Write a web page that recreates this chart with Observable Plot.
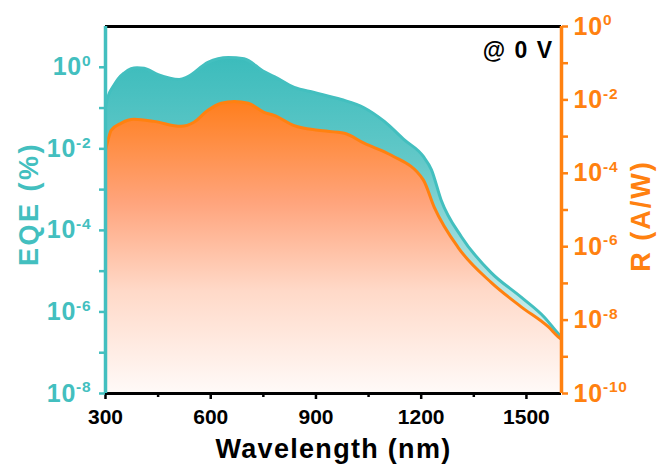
<!DOCTYPE html>
<html><head><meta charset="utf-8">
<script src="https://cdn.jsdelivr.net/npm/d3@7"></script>
<script src="https://cdn.jsdelivr.net/npm/@observablehq/plot@0.6"></script>
<style>body{margin:0;background:#fff} svg{display:block}</style>
</head><body><div id="chart"></div>
<script>
// EQE (%)
const eqeWavelength = [300, 307, 324, 336, 353, 373, 390, 410, 450, 510, 535, 592, 650, 695, 752, 781, 838, 895, 972, 1037, 1095, 1152, 1206, 1229, 1257, 1315, 1400, 1485, 1551, 1591, 1600];
const eqeValues = [0.108, 0.19, 0.36, 0.52, 0.72, 0.92, 0.98, 0.95, 0.66, 0.50, 0.59, 1.32, 1.74, 1.62, 0.78, 0.59, 0.32, 0.24, 0.162, 0.102, 0.047, 0.0166, 0.0065, 0.0031, 5.5e-4, 6.9e-5, 9.1e-6, 2.3e-6, 7.4e-7, 2.9e-7, 2.4e-7];
// Responsivity R (A/W)
const rWavelength = [300, 307, 316, 344, 381, 438, 515, 552, 592, 630, 667, 707, 752, 781, 838, 906, 981, 1037, 1115, 1206, 1237, 1306, 1400, 1485, 1562, 1594, 1600];
const rValues = [4.3e-4, 7.9e-4, 1.48e-3, 2.3e-3, 2.95e-3, 2.6e-3, 1.9e-3, 2.45e-3, 5.2e-3, 8.1e-3, 9.1e-3, 8.1e-3, 4.6e-3, 3.8e-3, 2.0e-3, 1.48e-3, 1.23e-3, 6.6e-4, 3.1e-4, 6.6e-5, 1.2e-5, 9.3e-7, 1.05e-7, 2.3e-8, 6.6e-9, 3.3e-9, 3.0e-9];

const xTicks = [300, 600, 900, 1200, 1500];
const xMinorTicks = [450, 750, 1050, 1350];
const eqeTickExponents = [0, -1, -2, -3, -4, -5, -6, -7, -8];
const rTickExponents = [0, -1, -2, -3, -4, -5, -6, -7, -8, -9, -10];

const teal = "#43bfbf";
const orange = "#ff8110";
const eqeExpDomain = [-8, 1];   // EQE from 10^-8 to 10^1 %
const rExpDomain = [-10, 0];    // R from 10^-10 to 10^0 A/W

// the y scale runs over the decimal exponent of EQE; R is mapped onto it
const rExpToLeft = e => eqeExpDomain[0] + (e - rExpDomain[0]) * (eqeExpDomain[1] - eqeExpDomain[0]) / (rExpDomain[1] - rExpDomain[0]);
const leftToRExp = v => Math.round(rExpDomain[0] + (v - eqeExpDomain[0]) * (rExpDomain[1] - rExpDomain[0]) / (eqeExpDomain[1] - eqeExpDomain[0]));

const eqeData = eqeWavelength.map((w, i) => ({w, v: Math.log10(eqeValues[i])}));
const rData = rWavelength.map((w, i) => ({w, v: rExpToLeft(Math.log10(rValues[i]))}));

const chart = Plot.plot({
  width: 657, height: 465,
  marginLeft: 105, marginRight: 96, marginTop: 26, marginBottom: 72,
  style: {fontFamily: "'Liberation Sans', Arial, sans-serif", fontWeight: "bold", background: "white"},
  x: {domain: [300, 1600]},
  y: {domain: eqeExpDomain},
  marks: [
    Plot.areaY(eqeData, {x: "w", y1: eqeExpDomain[0], y2: "v", fill: "url(#tealGrad)", curve: "monotone-x"}),
    Plot.areaY(rData, {x: "w", y1: eqeExpDomain[0], y2: "v", fill: "url(#orangeGrad)", curve: "monotone-x"}),
    Plot.lineY(eqeData, {x: "w", y: "v", stroke: teal, strokeWidth: 3, curve: "monotone-x"}),
    Plot.lineY(rData, {x: "w", y: "v", stroke: orange, strokeWidth: 3, curve: "monotone-x"}),
    Plot.ruleY([eqeExpDomain[1]], {stroke: "black", strokeWidth: 3}),
    Plot.ruleY([eqeExpDomain[0]], {stroke: "black", strokeWidth: 3}),
    Plot.ruleX([300], {stroke: teal, strokeWidth: 3.5}),
    Plot.ruleX([1600], {stroke: orange, strokeWidth: 3.5}),
    Plot.axisX({ticks: xTicks, tickSize: 6, tickPadding: 10, fontSize: 21, strokeWidth: 2.5, color: "black", label: null, tickFormat: d => String(d)}),
    Plot.axisX({ticks: xMinorTicks, tickSize: 4, strokeWidth: 2.5, color: "black", label: null, tickFormat: () => ""}),
    Plot.axisY({anchor: "left", ticks: eqeTickExponents, tickSize: 6, tickPadding: 8, fontSize: 25, strokeWidth: 2.5, color: teal, label: null,
      tickFormat: d => { const e = Math.round(d); return e % 2 === 0 ? "10^" + e : ""; }}),
    Plot.axisY({anchor: "right", ticks: rTickExponents.map(rExpToLeft), tickSize: 6, tickPadding: 6, fontSize: 25, strokeWidth: 2.5, color: orange, label: null,
      tickFormat: d => { const e = leftToRExp(d); return e % 2 === 0 ? "10^" + e : ""; }}),
    Plot.text(["EQE (%)"], {frameAnchor: "left", dx: -76, dy: -6, rotate: -90, textAnchor: "middle", fill: teal, fontSize: 27, fontWeight: "bold", text: d => d, lineAnchor: "middle", className: "ls-eqe"}),
    Plot.text(["R (A/W)"], {frameAnchor: "right", dx: 80, dy: 6, rotate: -90, textAnchor: "middle", fill: orange, fontSize: 27, fontWeight: "bold", text: d => d, lineAnchor: "middle", className: "ls-r"}),
    Plot.text(["Wavelength (nm)"], {frameAnchor: "bottom", dy: 56, textAnchor: "middle", fill: "black", fontSize: 27, fontWeight: "bold", text: d => d, lineAnchor: "middle", className: "ls-x"}),
    Plot.text(["@ 0 V"], {frameAnchor: "top-right", dx: -8, dy: 24, textAnchor: "end", lineAnchor: "middle", fill: "black", fontSize: 23, fontWeight: "bold", text: d => d, className: "ls-v"})
  ]
});

// gradients
const ns = "http://www.w3.org/2000/svg";
const defs = document.createElementNS(ns, "defs");
function grad(id, y1, y2, stops) {
  const g = document.createElementNS(ns, "linearGradient");
  g.setAttribute("id", id);
  g.setAttribute("gradientUnits", "userSpaceOnUse");
  g.setAttribute("x1", 0); g.setAttribute("x2", 0);
  g.setAttribute("y1", y1); g.setAttribute("y2", y2);
  for (const [o, c] of stops) {
    const s = document.createElementNS(ns, "stop");
    s.setAttribute("offset", o); s.setAttribute("stop-color", c);
    g.appendChild(s);
  }
  defs.appendChild(g);
}
grad("tealGrad", 58, 393, [[0, "#3cbcbc"], [0.3, "#62c8c8"], [0.65, "#b0e3e3"], [1, "#f0fafa"]]);
grad("orangeGrad", 100, 393, [[0, "#ff7e1c"], [0.35, "#ffa47c"], [0.65, "#ffd9c8"], [1, "#fffaf8"]]);
chart.insertBefore(defs, chart.firstChild);

// letter spacing for the wide titles
const spacing = {"ls-eqe": "2.5px", "ls-r": "2px", "ls-x": "1.3px", "ls-v": "1.5px"};
for (const [cls, ls] of Object.entries(spacing)) {
  chart.querySelectorAll("." + cls + " text, text." + cls).forEach(t => t.setAttribute("letter-spacing", ls));
}

// superscript exponents on y tick labels; drop empty labels
chart.querySelectorAll("text").forEach(t => {
  const s = t.textContent;
  if (s === "" && t.closest("g[aria-label$='tick label']")) { t.remove(); return; }
  const m = /^10\^(-?\d+)$/.exec(s);
  if (m) {
    t.textContent = "10";
    t.setAttribute("letter-spacing", "0.8px");
    const sp = document.createElementNS(ns, "tspan");
    sp.setAttribute("dy", "-0.6em");
    sp.setAttribute("font-size", "0.62em");
    sp.textContent = m[1];
    t.appendChild(sp);
  }
});

document.getElementById("chart").appendChild(chart);
</script>
</body></html>
